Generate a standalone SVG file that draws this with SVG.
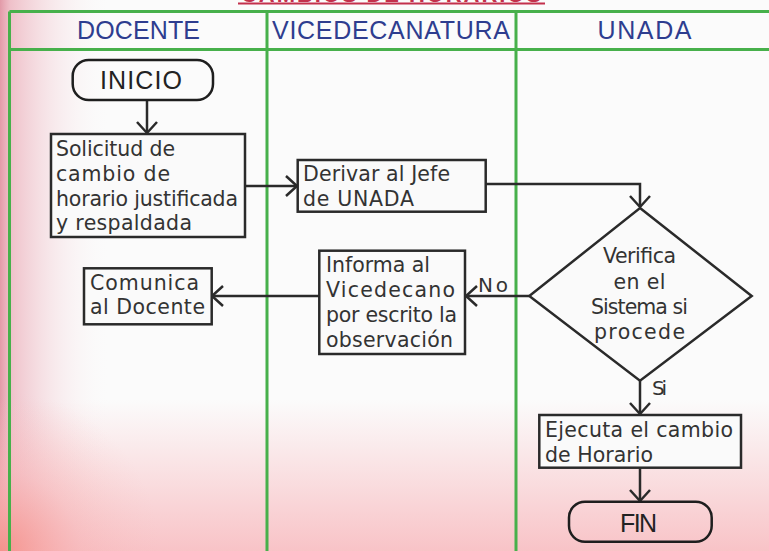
<svg xmlns="http://www.w3.org/2000/svg" width="769" height="551" viewBox="0 0 769 551">
<defs>
<linearGradient id="gLeft" x1="0" y1="0" x2="1" y2="0">
<stop offset="0" stop-color="#e29aa8" stop-opacity="1"/>
<stop offset="0.08" stop-color="#ecb2bd" stop-opacity="0.8"/>
<stop offset="0.35" stop-color="#f2ccd3" stop-opacity="0.5"/>
<stop offset="0.85" stop-color="#fbfbfb" stop-opacity="0"/>
</linearGradient>
<linearGradient id="gBottom" x1="0" y1="0" x2="0" y2="1">
<stop offset="0" stop-color="#f8c2c6" stop-opacity="0"/>
<stop offset="1" stop-color="#f8c0c4" stop-opacity="0.95"/>
</linearGradient>
<radialGradient id="gCorner" cx="0" cy="551" r="160" gradientUnits="userSpaceOnUse">
<stop offset="0" stop-color="#f48a82" stop-opacity="0.85"/>
<stop offset="0.5" stop-color="#f6a8a8" stop-opacity="0.3"/>
<stop offset="1" stop-color="#f8c0c0" stop-opacity="0"/>
</radialGradient>
<marker id="arr" markerUnits="userSpaceOnUse" viewBox="0 0 14 22" markerWidth="14" markerHeight="22" refX="12" refY="11" orient="auto">
<path d="M1,1 L12,11 L1,21" fill="none" stroke="#2a2a2a" stroke-width="2.5"/>
</marker>
</defs>
<style>
.lane{stroke:#47b04b;stroke-width:3;fill:none}
.hdr{font-family:"Liberation Sans",Arial,sans-serif;font-size:25px;fill:#2e3d8f;text-anchor:middle}
.box{fill:#fafafa;stroke:#2a2a2a;stroke-width:2.5}
.term{fill:none;stroke:#1e1e1e;stroke-width:2.5}
.t{font-family:"DejaVu Sans",sans-serif;font-size:20.5px;fill:#333}
.tc{font-family:"DejaVu Sans",sans-serif;font-size:20.5px;fill:#333;text-anchor:middle}
.tt{font-family:"Liberation Sans",Arial,sans-serif;font-size:25px;fill:#222;text-anchor:middle}
.lbl{font-family:"DejaVu Sans",sans-serif;font-size:20px;fill:#333}
.con{fill:none;stroke:#2a2a2a;stroke-width:2.5;marker-end:url(#arr)}
</style>
<rect x="0" y="0" width="769" height="551" fill="#fbfbfb"/>
<rect x="0" y="0" width="130" height="551" fill="url(#gLeft)"/>
<rect x="0" y="400" width="769" height="151" fill="url(#gBottom)"/>
<rect x="0" y="380" width="170" height="171" fill="url(#gCorner)"/>

<g id="title">
<text x="391" y="2" font-family="Liberation Sans,Arial,sans-serif" font-weight="bold" font-size="22" fill="#c3304c" text-anchor="middle" textLength="300">CAMBIOS DE HORARIOS</text>
<line x1="238" y1="3.5" x2="545" y2="3.5" stroke="#c3304c" stroke-width="2"/>
</g>

<g id="lanes">
<path class="lane" d="M9.5,11.5 H769 M9.5,49.5 H769 M9.5,11.5 V551 M267,11.5 V551 M516,11.5 V551"/>
<text class="hdr" x="138.5" y="39.3" textLength="123">DOCENTE</text>
<text class="hdr" x="391" y="39.3" textLength="238">VICEDECANATURA</text>
<text class="hdr" x="644.5" y="39.3" textLength="94">UNADA</text>
</g>

<g id="connectors">
<path class="con" d="M147,101 V133"/>
<path class="con" d="M245,186 H297"/>
<path class="con" d="M486,184 H640 V207"/>
<path class="con" d="M529,296 H466"/>
<path class="con" d="M319,296 H212"/>
<path class="con" d="M640,381 V414"/>
<path class="con" d="M640,468 V501"/>
<text class="lbl" x="478" y="291.5" textLength="30">No</text>
<text class="lbl" x="652" y="395" textLength="15">Si</text>
</g>

<g id="inicio">
<rect class="term" x="72.7" y="60" width="140.3" height="40" rx="16"/>
<text class="tt" x="141" y="89.3" textLength="82">INICIO</text>
</g>

<g id="solicitud">
<rect class="box" x="51" y="134" width="194" height="103"/>
<text class="t" x="56" y="156" textLength="119">Solicitud de</text>
<text class="t" x="56" y="180.5" textLength="114">cambio de</text>
<text class="t" x="56" y="206" textLength="182">horario justificada</text>
<text class="t" x="56" y="230" textLength="136">y respaldada</text>
</g>

<g id="derivar">
<rect class="box" x="297.7" y="160" width="188" height="51.7"/>
<text class="t" x="303" y="180.7" textLength="147">Derivar al Jefe</text>
<text class="t" x="303" y="206.2" textLength="111">de UNADA</text>
</g>

<g id="verifica">
<polygon class="box" points="640,208 751.7,296 640,380.7 529.3,296"/>
<text class="tc" x="639.5" y="263" textLength="73">Verifica</text>
<text class="tc" x="639.5" y="288.5" textLength="52">en el</text>
<text class="tc" x="639.5" y="314" textLength="97">Sistema si</text>
<text class="tc" x="639.5" y="339" textLength="91">procede</text>
</g>

<g id="informa">
<rect class="box" x="319.3" y="250.7" width="145.7" height="103.3"/>
<text class="t" x="326" y="271.7" textLength="104">Informa al</text>
<text class="t" x="326" y="296.7" textLength="129">Vicedecano</text>
<text class="t" x="326" y="322" textLength="131">por escrito la</text>
<text class="t" x="326" y="346.5" textLength="127">observación</text>
</g>

<g id="comunica">
<rect class="box" x="84" y="268.3" width="127.7" height="56"/>
<text class="t" x="90" y="290" textLength="109">Comunica</text>
<text class="t" x="90" y="314" textLength="115">al Docente</text>
</g>

<g id="ejecuta">
<rect class="box" x="539.3" y="415" width="201.7" height="52.7"/>
<text class="t" x="545" y="436.7" textLength="188">Ejecuta el cambio</text>
<text class="t" x="545" y="461.7" textLength="108">de Horario</text>
</g>

<g id="fin">
<rect class="term" x="569" y="501.7" width="142.7" height="40" rx="16"/>
<text class="tt" x="638.5" y="531.5" textLength="37">FIN</text>
</g>
</svg>
